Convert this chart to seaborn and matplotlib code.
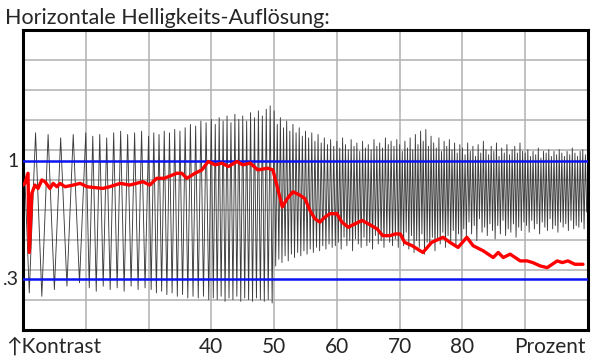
import numpy as np
import pandas as pd
import matplotlib
matplotlib.use("Agg")
import matplotlib.pyplot as plt
import matplotlib.transforms as mtransforms
import seaborn as sns

# Red line: measured contrast (Prozent -> Kontrast)
red_x = [10.0, 10.3, 10.8, 11.0, 11.4, 11.9, 12.4, 13.0, 13.5, 14.3, 14.8, 15.4, 15.9, 16.7,
         18.0, 19.1, 20.2, 22.7, 23.8, 25.5, 27.0, 29.1, 30.2, 31.3, 32.5, 34.5, 35.3, 36.1,
         37.4, 38.5, 39.5, 40.6, 41.7, 42.7, 44.1, 45.0, 46.2, 47.4, 49.0, 49.8, 50.5, 51.3,
         52.1, 53.0, 54.1, 54.9, 55.7, 56.5, 57.3, 58.1, 58.9, 60.0, 60.8, 61.8, 62.9, 64.0,
         65.0, 66.4, 67.3, 68.5, 69.3, 70.1, 70.8, 72.0, 73.7, 75.1, 76.9, 78.0, 79.3, 80.7,
         81.7, 83.3, 84.9, 85.7, 86.5, 87.6, 88.4, 89.2, 90.3, 91.2, 92.4, 93.5, 94.3, 95.1,
         95.9, 96.8, 97.9, 99.2]
red_y = [0.86, 0.87, 0.93, 0.46, 0.81, 0.86, 0.84, 0.89, 0.88, 0.84, 0.87, 0.85, 0.87, 0.85,
         0.86, 0.87, 0.85, 0.84, 0.85, 0.87, 0.86, 0.88, 0.86, 0.90, 0.90, 0.93, 0.93, 0.90,
         0.93, 0.95, 1.00, 0.98, 0.99, 0.97, 1.00, 0.98, 0.99, 0.95, 0.96, 0.95, 0.85, 0.73,
         0.78, 0.82, 0.80, 0.78, 0.71, 0.66, 0.64, 0.67, 0.69, 0.69, 0.64, 0.61, 0.63, 0.65,
         0.63, 0.60, 0.56, 0.56, 0.57, 0.57, 0.52, 0.50, 0.46, 0.52, 0.55, 0.52, 0.49, 0.55,
         0.50, 0.47, 0.43, 0.46, 0.43, 0.45, 0.43, 0.41, 0.41, 0.40, 0.38, 0.37, 0.39, 0.41,
         0.40, 0.41, 0.39, 0.39]

# Black test signal: peaks and troughs per 10 % cell
cell_starts = [10, 20, 30, 40, 50, 60, 70, 80, 90]
peaks_top = [
    [1.19, 1.17, 1.16, 1.14, 1.16],
    [1.17, 1.15, 1.16, 1.14, 1.17, 1.18, 1.16, 1.17, 1.18],
    [1.15, 1.17, 1.16, 1.18, 1.17, 1.19, 1.18, 1.20, 1.22, 1.21, 1.24, 1.23],
    [1.25, 1.22, 1.26, 1.24, 1.27, 1.23, 1.28, 1.25, 1.27, 1.24, 1.29, 1.26, 1.30, 1.27, 1.31, 1.33],
    [1.30, 1.22, 1.26, 1.20, 1.24, 1.18, 1.22, 1.17, 1.20, 1.15, 1.18, 1.14, 1.17, 1.12, 1.16,
     1.11, 1.14, 1.10, 1.13, 1.09],
    [1.12, 1.08, 1.14, 1.10, 1.07, 1.13, 1.09, 1.11, 1.06, 1.12, 1.08, 1.10, 1.07, 1.13, 1.09,
     1.11, 1.08, 1.14, 1.10, 1.12, 1.09, 1.13],
    [1.10, 1.06, 1.12, 1.08, 1.14, 1.07, 1.16, 1.10, 1.18, 1.12, 1.19, 1.09, 1.15, 1.11, 1.08,
     1.14, 1.06, 1.12, 1.09, 1.13, 1.07, 1.11, 1.05, 1.10],
    [1.08, 1.04, 1.11, 1.06, 1.09, 1.03, 1.10, 1.05, 1.12, 1.07, 1.04, 1.09, 1.06, 1.11, 1.03,
     1.08, 1.05, 1.10, 1.04, 1.07, 1.09, 1.05, 1.11, 1.06],
    [1.05, 1.07, 1.03, 1.06, 1.04, 1.08, 1.02, 1.06, 1.05, 1.07, 1.03, 1.06, 1.04, 1.07, 1.05,
     1.03, 1.06, 1.04, 1.08, 1.05, 1.03, 1.06, 1.07, 1.04],
]
peaks_bottom = [
    [0.22, 0.20, 0.24, 0.26, 0.28],
    [0.25, 0.23, 0.26, 0.24, 0.25, 0.23, 0.26, 0.24, 0.25],
    [0.24, 0.22, 0.23, 0.21, 0.22, 0.20, 0.21, 0.19, 0.20, 0.19, 0.20, 0.18],
    [0.19, 0.18, 0.20, 0.17, 0.19, 0.18, 0.20, 0.17, 0.19, 0.18, 0.17, 0.19, 0.18, 0.17, 0.18, 0.16],
    [0.38, 0.42, 0.40, 0.44, 0.41, 0.45, 0.43, 0.46, 0.44, 0.47, 0.45, 0.48, 0.46, 0.49, 0.47,
     0.50, 0.48, 0.51, 0.49, 0.50],
    [0.52, 0.48, 0.55, 0.50, 0.53, 0.47, 0.54, 0.51, 0.49, 0.55, 0.50, 0.52, 0.48, 0.56, 0.51,
     0.53, 0.49, 0.55, 0.52, 0.50, 0.54, 0.49],
    [0.55, 0.50, 0.58, 0.48, 0.56, 0.46, 0.53, 0.49, 0.57, 0.45, 0.52, 0.50, 0.55, 0.47, 0.54,
     0.51, 0.58, 0.49, 0.56, 0.52, 0.59, 0.50, 0.57, 0.53],
    [0.60, 0.55, 0.64, 0.57, 0.62, 0.53, 0.66, 0.58, 0.61, 0.56, 0.63, 0.59, 0.54, 0.62, 0.57,
     0.65, 0.56, 0.60, 0.58, 0.63, 0.55, 0.61, 0.59, 0.64],
    [0.62, 0.58, 0.65, 0.60, 0.63, 0.57, 0.64, 0.61, 0.59, 0.66, 0.60, 0.62, 0.58, 0.64, 0.61,
     0.63, 0.59, 0.65, 0.60, 0.62, 0.61, 0.64, 0.60, 0.70],
]

ref_levels = [1.0, 0.3]
ref_labels = ["1", ".3"]
x_labels = ["40", "50", "60", "70", "80"]
x_label_pos = [40, 50, 60, 70, 80]

# build the zigzag from the peak lists
sig_x, sig_y = [], []
for start, tops, bots in zip(cell_starts, peaks_top, peaks_bottom):
    n = len(tops)
    for i in range(n):
        sig_x.append(start + 10 * i / n)
        sig_y.append(tops[i])
        sig_x.append(start + 10 * (i + 0.5) / n)
        sig_y.append(bots[i])
signal = pd.DataFrame({"x": sig_x, "y": sig_y})
red = pd.DataFrame({"x": red_x, "y": red_y})

sns.set_style("white")
plt.rcParams["font.family"] = ["Lato", "DejaVu Sans"]

fig = plt.figure(figsize=(6, 3.64), dpi=100)
ax = fig.add_axes([23 / 600, 1 - 330 / 364, 565 / 600, 300 / 364])

ymax = 1.78
ax.set_xlim(10, 100)
ax.set_ylim(0, ymax)
ax.set_xticks(range(20, 100, 10))
ax.set_yticks(np.linspace(0, ymax, 11)[1:-1])
ax.grid(True, color="#b0b0b0", linewidth=1.1)
ax.set_axisbelow(True)
ax.tick_params(length=0, labelbottom=False, labelleft=False)

sns.lineplot(data=signal, x="x", y="y", ax=ax, color="#3c3c3c", linewidth=0.65,
             estimator=None, sort=False, zorder=2)
for lvl in ref_levels:
    ax.axhline(lvl, color="#0a14f0", linewidth=1.8, zorder=3)
sns.lineplot(data=red, x="x", y="y", ax=ax, color="#ff0000", linewidth=2.4,
             estimator=None, sort=False, zorder=4)

ax.set_xlabel("")
ax.set_ylabel("")
for s in ax.spines.values():
    s.set_visible(True)
    s.set_color("black")
    s.set_linewidth(2.2)

trans = mtransforms.blended_transform_factory(ax.transData, fig.transFigure)
for pos, lab in zip(x_label_pos, x_labels):
    ax.text(pos, 1 - 353 / 364, lab, transform=trans, ha="center", va="baseline", fontsize=15)
fig.text(586 / 600, 1 - 353 / 364, "Prozent", ha="right", va="baseline", fontsize=15)
fig.text(6 / 600, 1 - 353 / 364, "\u2191Kontrast", ha="left", va="baseline", fontsize=15)

trans_y = mtransforms.blended_transform_factory(fig.transFigure, ax.transData)
for lvl, lab in zip(ref_levels, ref_labels):
    ax.text(19 / 600, lvl, lab, transform=trans_y, ha="right", va="center", fontsize=14)

fig.text(5 / 600, 1 - 24 / 364, "Horizontale Helligkeits-Auflösung:", ha="left",
         va="baseline", fontsize=15.5)

fig.savefig("out.png", dpi=100)
